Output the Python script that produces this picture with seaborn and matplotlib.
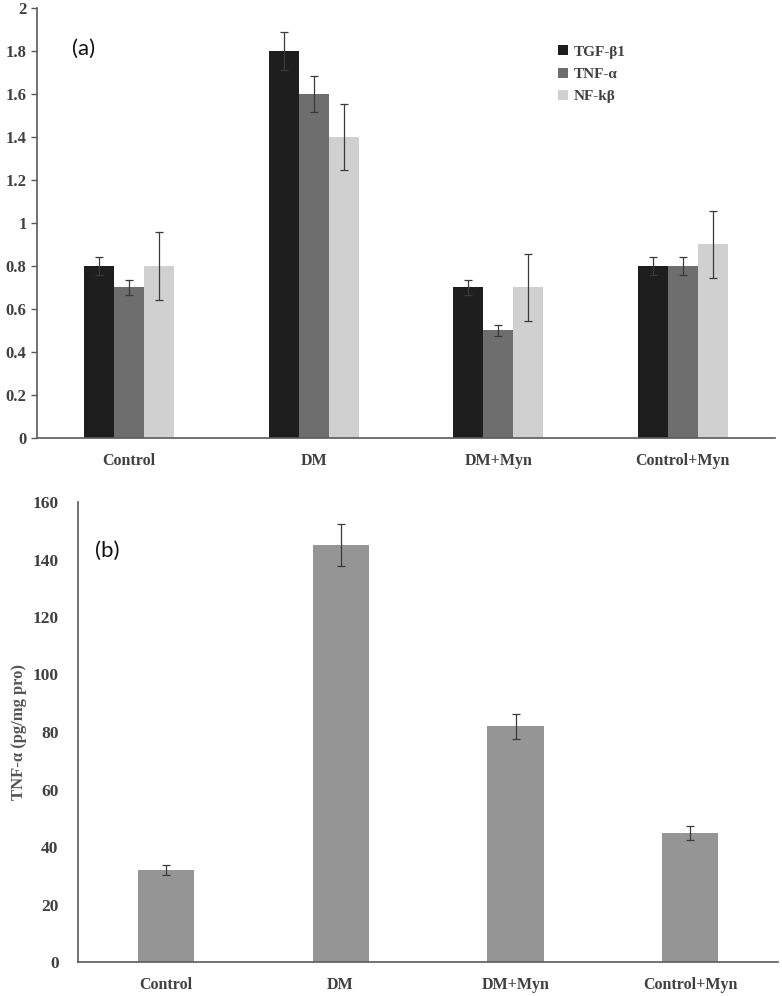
import matplotlib
matplotlib.use("Agg")
import matplotlib.pyplot as plt
import numpy as np
import pandas as pd
import seaborn as sns

# panel (a) data
groups = ["Control", "DM", "DM+Myn", "Control+Myn"]
markers = ["TGF-β1", "TNF-α", "NF-kβ"]
tgf_mean = [0.8, 1.8, 0.7, 0.8]
tgf_err = [0.04, 0.088, 0.035, 0.04]
tnf_mean = [0.7, 1.6, 0.5, 0.8]
tnf_err = [0.035, 0.084, 0.025, 0.04]
nfkb_mean = [0.8, 1.4, 0.7, 0.9]
nfkb_err = [0.157, 0.155, 0.156, 0.157]

# panel (b) data
tnf_tissue = [32, 145, 82, 45]
tnf_tissue_err = [1.7, 7.2, 4.3, 2.4]

sns.set_theme(style="white")
plt.rcParams["font.family"] = ["Liberation Serif", "DejaVu Serif"]

text_col = "#404040"
spine_col = "#5a5a5a"
palette = ["#1e1e1e", "#6e6e6e", "#d0d0d0"]

fig = plt.figure(figsize=(7.82, 9.96), dpi=100)
W, H = 782, 996
ax1 = fig.add_axes([37 / W, 1 - 438 / H, (775 - 37) / W, 430 / H])
ax2 = fig.add_axes([78 / W, 1 - 962 / H, (778 - 78) / W, 460 / H])

# ---- panel (a)
df_a = pd.DataFrame({
    "group": groups * 3,
    "marker": [m for m in markers for _ in groups],
    "value": tgf_mean + tnf_mean + nfkb_mean,
})
sns.barplot(data=df_a, x="group", y="value", hue="marker", order=groups,
            hue_order=markers, palette=palette, width=0.49, errorbar=None,
            saturation=1, linewidth=0, ax=ax1)
for cont, errs in zip(ax1.containers, [tgf_err, tnf_err, nfkb_err]):
    xs = [p.get_x() + p.get_width() / 2 for p in cont.patches]
    hs = [p.get_height() for p in cont.patches]
    ax1.errorbar(xs, hs, yerr=errs, fmt="none", ecolor="#3a3a3a",
                 elinewidth=0.9, capsize=3, capthick=0.9)

ax1.set_xlim(-0.5, 3.5)
ax1.set_ylim(0, 2)
ax1.set_yticks(np.arange(0, 2.01, 0.2))
ax1.set_yticklabels(["0", "0.2", "0.4", "0.6", "0.8", "1", "1.2", "1.4",
                     "1.6", "1.8", "2"])
ax1.set_xlabel("")
ax1.set_ylabel("")
ax1.text(0.047, 0.89, "(a)", transform=ax1.transAxes, fontsize=16,
         family=["Lato", "DejaVu Sans"], color="#111111")
leg = ax1.legend(loc="upper left", bbox_to_anchor=(0.688, 0.945), frameon=False,
                 handlelength=0.6, handleheight=0.6, handletextpad=0.4,
                 labelspacing=0.6, prop={"weight": "bold", "size": 11})
for t in leg.get_texts():
    t.set_color(text_col)

# ---- panel (b)
sns.barplot(x=groups, y=tnf_tissue, color="#959595", saturation=1,
            width=0.32, errorbar=None, linewidth=0, ax=ax2)
xs = [p.get_x() + p.get_width() / 2 for p in ax2.patches]
ax2.errorbar(xs, tnf_tissue, yerr=tnf_tissue_err, fmt="none",
             ecolor="#3a3a3a", elinewidth=0.9, capsize=3, capthick=0.9)
ax2.set_xlim(-0.5, 3.5)
ax2.set_ylim(0, 160)
ax2.set_yticks(np.arange(0, 161, 20))
ax2.set_ylabel("TNF-α (pg/mg pro)", fontsize=12, fontweight="bold",
               color="#555555", labelpad=4)
ax2.text(0.024, 0.88, "(b)", transform=ax2.transAxes, fontsize=16,
         family=["Lato", "DejaVu Sans"], color="#111111")

for ax, ysize in [(ax1, 12), (ax2, 12.5)]:
    sns.despine(ax=ax)
    for s in ["left", "bottom"]:
        ax.spines[s].set_color(spine_col)
        ax.spines[s].set_linewidth(1.2)
    ax.tick_params(axis="x", length=0, pad=11, labelsize=11.5,
                   labelcolor=text_col)
    ax.tick_params(axis="y", labelsize=ysize, labelcolor=text_col)
    for lbl in ax.get_xticklabels() + ax.get_yticklabels():
        lbl.set_fontweight("bold")
ax1.tick_params(axis="y", length=4, width=1, color=spine_col, left=True)
ax2.tick_params(axis="y", length=0, pad=14)

fig.savefig("out.png", dpi=100)
